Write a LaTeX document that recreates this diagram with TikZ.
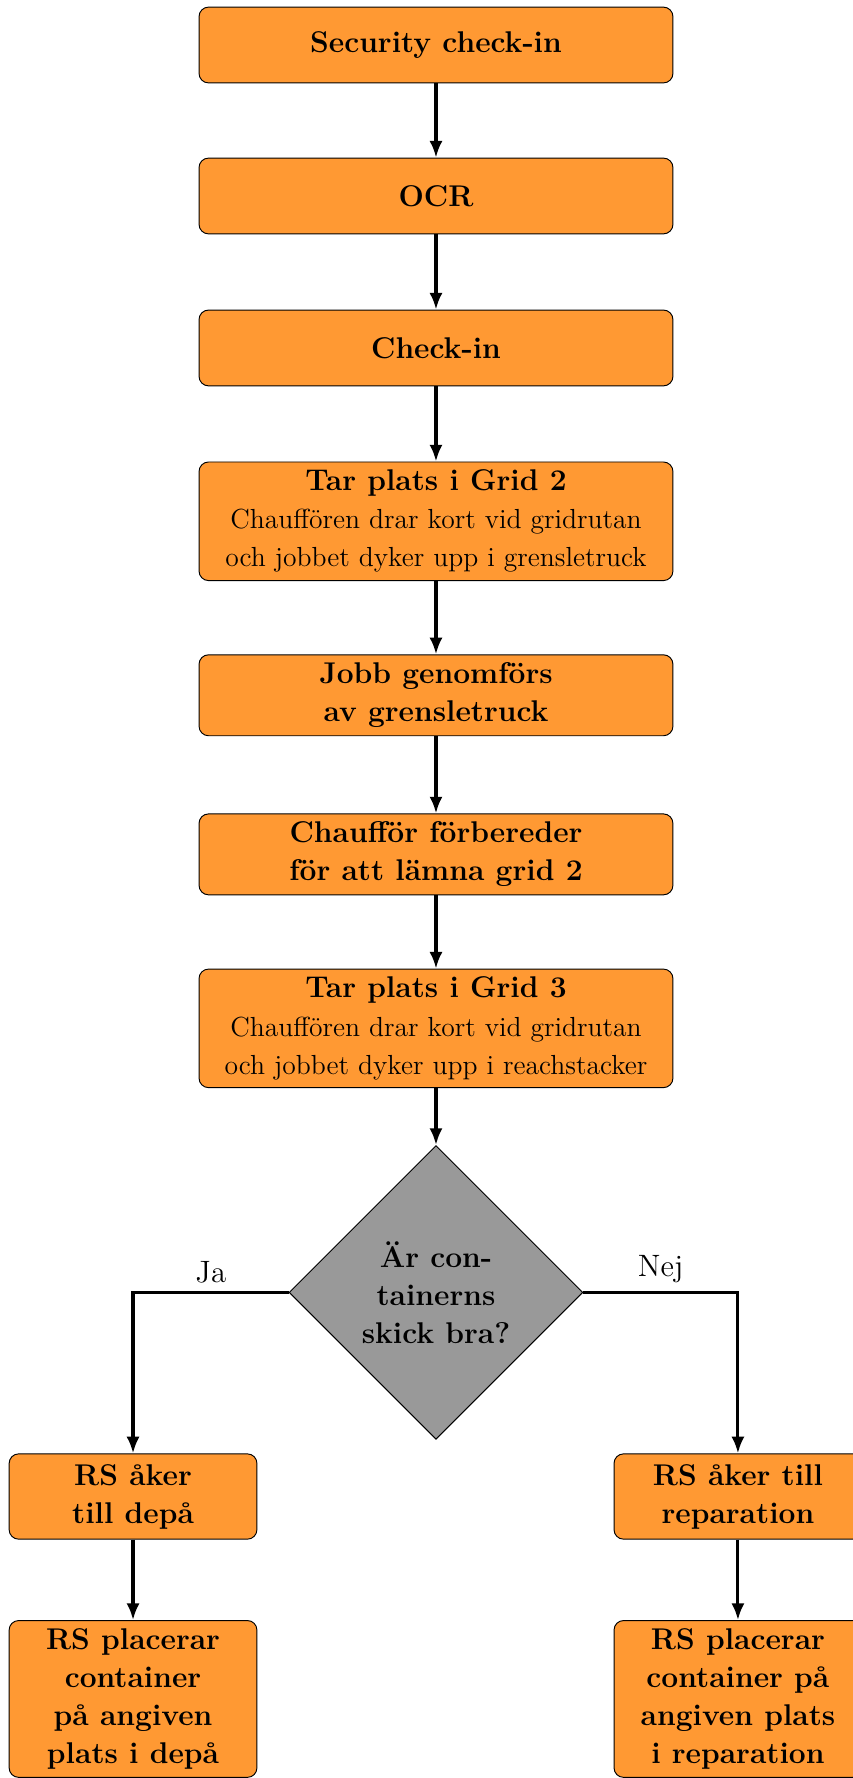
\documentclass[tikz,border=0pt]{standalone}
\usetikzlibrary{shapes.geometric,arrows.meta}

\newcommand{\subline}[1]{{\fontsize{11.6}{16}\selectfont\mdseries #1}}

\tikzset{
  stepbox/.style={rectangle, rounded corners, draw=black, fill=orange!80,
    align=center, minimum width=7cm, minimum height=1.12cm,
    font=\fontsize{12.6}{16}\selectfont\bfseries},
  sidebox/.style={stepbox, minimum width=3.66cm, minimum height=1.26cm},
  question/.style={diamond, aspect=1, draw=black, fill=gray!80,
    minimum width=4.34cm, minimum height=4.34cm, inner sep=0pt,
    align=center, font=\fontsize{12.6}{16}\selectfont\bfseries},
  flow/.style={line width=1.3pt, -{Latex[length=7pt,width=5.5pt]}},
  answer/.style={font=\fontsize{13}{16}\selectfont}
}

\begin{document}
\begin{tikzpicture}
\def\xc{6.44};
\def\xl{1.965};
\def\xr{10.90};

\useasboundingbox (0,0) rectangle (12.585,-26.263);

% main column
\node[stepbox] (sec) at (\xc, -0.665) {Security check-in};
\node[stepbox] (ocr) at (\xc, -2.895) {OCR};
\node[stepbox] (chk) at (\xc, -5.14) {Check-in};
\node[stepbox] (gridtwo) at (\xc, -7.70) {Tar plats i Grid 2\\
  \subline{Chauff\"oren drar kort vid gridrutan}\\
  \subline{och jobbet dyker upp i grensletruck}};
\node[stepbox] (jobb) at (\xc, -10.27) {Jobb genomf\"ors\\av grensletruck};
\node[stepbox] (prep) at (\xc, -12.62) {Chauff\"or f\"orbereder\\f\"or att l\"amna grid 2};
\node[stepbox] (gridthree) at (\xc, -15.19) {Tar plats i Grid 3\\
  \subline{Chauff\"oren drar kort vid gridrutan}\\
  \subline{och jobbet dyker upp i reachstacker}};
\node[question] (skick) at (\xc, -19.09) {\"Ar con-\\tainerns\\skick bra?};

% branches
\node[sidebox] (depa) at (\xl, -22.105) {RS \aa ker\\till dep\aa};
\node[sidebox] (rep) at (\xr, -22.105) {RS \aa ker till\\reparation};
\node[sidebox, anchor=north] (depaplats) at (\xl, -23.93) {RS placerar\\container\\p\aa{} angiven\\plats i dep\aa};
\node[sidebox, anchor=north] (repplats) at (\xr, -23.93) {RS placerar\\container p\aa\\angiven plats\\i reparation};

\draw[flow] (sec) -- (ocr);
\draw[flow] (ocr) -- (chk);
\draw[flow] (chk) -- (gridtwo);
\draw[flow] (gridtwo) -- (jobb);
\draw[flow] (jobb) -- (prep);
\draw[flow] (prep) -- (gridthree);
\draw[flow] (gridthree) -- (skick);

\draw[flow] (skick.west) -| node[answer, pos=0.25, above] {Ja} (depa.north);
\draw[flow] (skick.east) -| node[answer, pos=0.25, above] {Nej} (rep.north);
\draw[flow] (depa) -- (depaplats);
\draw[flow] (rep) -- (repplats);

\end{tikzpicture}
\end{document}
